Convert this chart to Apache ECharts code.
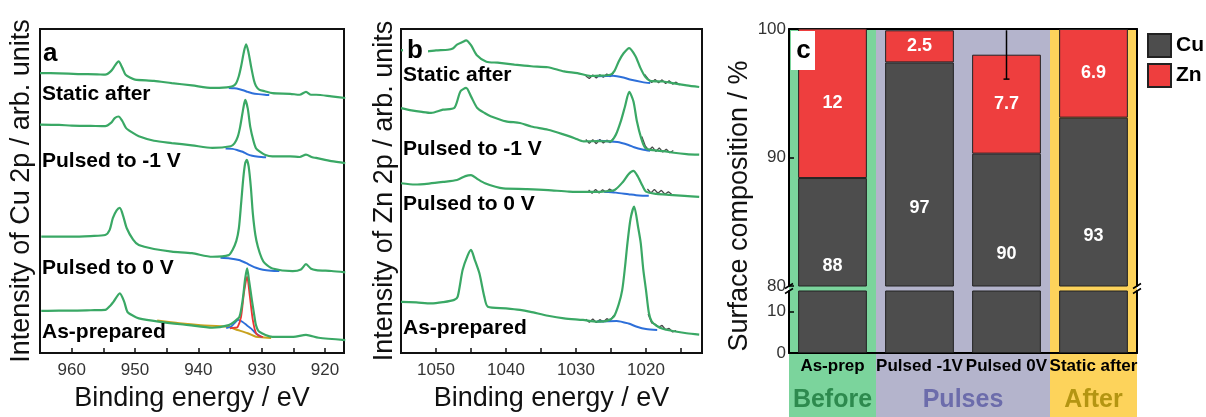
<!DOCTYPE html>
<html>
<head>
<meta charset="utf-8">
<script src="https://cdn.jsdelivr.net/npm/echarts@6/dist/echarts.min.js"></script>
<style>
html, body { margin: 0; padding: 0; background: #fff; }
#chart { width: 1206px; height: 417px; }
</style>
</head>
<body>
<div id="chart"></div>
<script>
// ---------- Cu 2p spectra: [binding energy (eV), intensity (arb. units)] ----------
const cuStaticAfter = [[965,86.4],[962,86.3],[959,86.1],[956,86.0],[954.7,85.9],[953.8,87.0],[953.2,88.6],[952.6,90.0],[952.0,88.0],[951.5,85.9],[950.8,85.0],[950,84.4],[947,84.0],[944.2,83.3],[941,82.6],[937.8,81.8],[935.5,82.0],[934.6,82.3],[934.05,83.2],[933.6,85.5],[933.25,88.4],[932.8,93.0],[932.46,95.3],[932.1,93.0],[931.67,88.4],[931.2,84.0],[930.9,82.4],[930.4,81.3],[929.5,80.8],[928.3,80.2],[925.5,80.0],[924,79.7],[923,80.6],[922.2,79.7],[921.4,79.7],[919,79.2],[916.8,78.7]];
const cuPulsedNeg1 = [[965,70.5],[962,70.4],[960,70.2],[957,70.1],[954.7,70.0],[953.8,71.0],[953.2,72.5],[952.6,73.0],[952.0,71.6],[951.4,69.4],[950.4,68.0],[949.4,66.9],[947,65.5],[944.2,64.8],[941,64.1],[937.8,63.3],[934.9,63.8],[934.3,64.7],[933.8,66.6],[933.4,69.8],[932.9,75.5],[932.6,78.1],[932.2,75.5],[931.8,69.8],[931.3,65.5],[930.9,63.2],[930.4,62.3],[929.5,61.2],[928.3,60.7],[925.5,60.7],[924,60.5],[923,61.2],[922,60.4],[921.4,60.2],[919,59.2],[916.8,58.6]];
const cuPulsed0 = [[964.8,35.9],[962,35.9],[960,35.9],[957,36.1],[954.7,36.4],[954.0,38.0],[953.5,41.6],[952.9,44.0],[952.4,44.8],[951.9,42.5],[951.3,38.5],[950.3,35.0],[949.4,33.3],[947,32.1],[944.2,31.3],[941,30.8],[937.8,29.7],[935.2,30.2],[934.6,31.8],[934.0,34.6],[933.6,38.5],[933.25,46.0],[932.9,54.0],[932.6,58.6],[932.35,59.6],[932.05,57.5],[931.7,51.0],[931.4,43.2],[931.0,36.5],[930.6,32.8],[930.0,29.3],[929.5,27.7],[928.3,26.1],[925.1,25.3],[923.8,25.8],[923,27.4],[922.2,26.0],[921.4,25.6],[919,25.3],[916.8,24.9]];
const cuAsPrepared = [[964.8,13.0],[962,13.1],[960,13.1],[957,13.2],[954.7,13.3],[953.9,14.6],[953.4,15.8],[952.4,18.4],[951.7,15.8],[951.2,12.7],[950.3,11.5],[949.4,10.7],[946.3,9.7],[941.5,8.6],[937.8,7.8],[935.2,8.6],[934.3,9.7],[933.5,11.2],[933.0,16.4],[932.6,23.0],[932.3,26.1],[932.0,22.5],[931.55,16.4],[931.2,12.0],[930.9,8.6],[930.4,6.6],[928.3,5.0],[925,5.0],[923,5.6],[921,4.7],[916.8,4.0]];
// fitted backgrounds and components
const cuStaticAfterBg = [[935.2,81.8],[934.3,81.7],[933.5,81.4],[932.8,81.0],[932.2,80.6],[931.5,80.2],[930.5,79.9],[929.5,79.7],[928.8,79.6]];
const cuPulsedNeg1Bg = [[935.7,63.1],[934.6,63.0],[933.8,62.6],[933.0,62.1],[932.3,61.4],[931.5,60.9],[930.5,60.6],[929.3,60.4]];
const cuPulsed0Bg = [[936.5,29.4],[935,29.2],[933.6,28.7],[932.5,27.8],[931.6,26.9],[930.9,26.3],[929.8,25.7],[928.5,25.4],[927.2,25.3]];
const cuAsPreparedBg = [[946.5,10.0],[943,9.2],[939.6,8.6],[935.4,8.1],[933.8,7.1],[932.2,6.1],[930.9,5.0],[929.6,4.8],[928.5,4.6]];
const cuAsPreparedMain = [[935,7.6],[934.2,7.8],[933.8,8.0],[933.25,11.2],[932.8,18.5],[932.3,23.6],[931.9,18.0],[931.4,10.2],[930.9,6.1],[930.4,5.3],[929.8,4.9]];
const cuAsPreparedSide = [[935.6,7.7],[934.8,8.2],[934.2,9.4],[933.7,10.2],[933.0,9.6],[932.3,8.5],[931.7,7.6],[931.1,6.4],[930.6,5.6],[930.0,4.9]];

// ---------- Zn 2p spectra ----------
const znStaticAfter = [[1055,93.5],[1053.8,93.2],[1052.5,93.0],[1051.2,93.1],[1050,93.4],[1048.3,93.6],[1047.6,94.0],[1047,95.2],[1046.2,96.0],[1045.7,96.5],[1045,95.0],[1044.2,92.0],[1042.8,89.9],[1041.2,89.6],[1038.8,89.0],[1036.4,88.5],[1034,88.2],[1031.7,86.9],[1029.8,86.4],[1027.9,85.5],[1026.5,85.6],[1025.1,85.9],[1024.5,87.1],[1023.9,90.0],[1023.2,92.5],[1022.4,94.1],[1021.5,91.6],[1020.8,88.0],[1020.1,85.2],[1019.4,84.0],[1017.5,83.8],[1016,83.2],[1014.2,82.6],[1012.4,82.1]];
const znPulsedNeg1 = [[1055,75.6],[1053.5,74.9],[1052,74.4],[1050.7,74.1],[1049,75.1],[1047.4,75.6],[1046.5,80.8],[1045.7,81.8],[1045,79.2],[1044.1,75.6],[1043,74.0],[1042.2,73.1],[1040,71.5],[1038,71.0],[1036.4,69.9],[1034,68.9],[1031.7,67.4],[1030.2,66.3],[1028.9,65.3],[1027,65.4],[1025.1,65.3],[1024.3,67.4],[1023.6,71.5],[1023.0,76.1],[1022.4,80.6],[1021.8,77.7],[1021.3,71.5],[1020.7,66.4],[1020.1,63.3],[1019,62.6],[1017.5,62.3],[1016,61.8],[1014.2,61.4],[1012.4,61.2]];
const znPulsed0 = [[1055,52.4],[1053,52.0],[1051,52.3],[1049,52.8],[1047,53.4],[1045.8,54.6],[1045,54.9],[1044,53.6],[1043,52.4],[1041.5,51.3],[1040.4,50.8],[1037,50.6],[1034,50.3],[1031,49.8],[1028,49.7],[1026.2,49.8],[1024.5,50.3],[1023.3,52.8],[1022.5,55.2],[1021.8,56.2],[1021.2,54.6],[1020.5,51.6],[1020,49.8],[1018.5,49.1],[1016.7,48.8],[1014.5,48.5],[1012.4,48.2]];
const znAsPrepared = [[1055,15.8],[1052.8,15.6],[1050.7,15.3],[1049,15.7],[1047.4,16.4],[1046.9,17.4],[1046.2,25.6],[1045.5,30.0],[1045.0,31.8],[1044.5,29.0],[1043.8,24.6],[1043.1,17.4],[1042.6,14.3],[1040,13.8],[1038,13.3],[1036.5,12.7],[1034,11.5],[1031.7,10.7],[1029,10.2],[1027,9.7],[1025.5,10.0],[1024.6,11.2],[1023.9,15.0],[1023.4,19.4],[1023.0,26.5],[1022.65,33.9],[1022.2,41.5],[1021.7,45.2],[1021.1,38.5],[1020.75,33.9],[1020.4,26.0],[1020.0,19.4],[1019.6,12.5],[1019.2,9.8],[1018.5,8.4],[1017.5,7.4],[1016,6.7],[1014.2,6.1],[1012.4,5.7]];
// raw counts around the fitted region ('-' marks the gap under the peak)
const znStaticAfterRaw = [[1028.6,85.5],[1028.1,84.7],[1027.6,85.8],[1027.1,84.9],[1026.6,85.9],[1026.1,85.1],[1025.6,86.1],[1025.1,85.3],[1024.6,86.6],[1024.3,'-'],[1020.2,86.0],[1019.7,84.6],[1019.2,83.5],[1018.7,84.4],[1018.2,83.4],[1017.7,84.3],[1017.2,83.2],[1016.7,84.0],[1016.2,83.0],[1015.7,83.6],[1015.2,82.7]];
const znPulsedNeg1Raw = [[1028.6,65.9],[1028.1,64.7],[1027.6,65.8],[1027.1,64.6],[1026.6,65.9],[1026.1,64.8],[1025.6,65.7],[1025.1,64.9],[1024.7,66.2],[1024.4,'-'],[1020.6,66.8],[1020.1,63.9],[1019.6,62.5],[1019.1,63.6],[1018.6,62.2],[1018.1,63.3],[1017.6,62.0],[1017.1,62.9],[1016.6,61.8],[1016.1,62.5]];
const znPulsed0Raw = [[1028.2,50.3],[1027.7,49.3],[1027.2,50.5],[1026.7,49.4],[1026.2,50.4],[1025.7,49.6],[1025.2,50.6],[1024.7,49.9],[1024.2,50.8],[1024.0,'-'],[1019.8,50.6],[1019.3,49.4],[1018.8,50.5],[1018.3,49.3],[1017.8,50.2],[1017.3,49.0],[1016.8,49.8],[1016.3,48.9]];
const znAsPreparedRaw = [[1028.6,10.4],[1028.1,9.5],[1027.6,10.5],[1027.1,9.4],[1026.6,10.3],[1026.1,9.6],[1025.6,10.6],[1025.1,10.0],[1024.6,11.6],[1024.4,'-'],[1019.7,12.0],[1019.2,9.3],[1018.7,8.9],[1018.2,8.0],[1017.7,8.5],[1017.2,7.2],[1016.7,7.6],[1016.2,6.5],[1015.7,6.9]];
const znStaticAfterBg = [[1027,85.4],[1024.7,85.6],[1023,84.9],[1022.3,84.4],[1020.5,83.6],[1019.4,83.3]];
const znPulsedNeg1Bg = [[1027,65.5],[1024.1,65.1],[1022.5,64.2],[1021.7,63.5],[1020.5,62.8],[1019.4,62.4]];
const znPulsed0Bg = [[1026,49.8],[1024.3,49.5],[1022.5,49.0],[1021,48.6],[1019.6,48.5]];
const znAsPreparedBg = [[1027,9.7],[1024.2,9.9],[1022.5,9.1],[1021.3,8.1],[1020,7.4],[1018.4,7.1]];

// ---------- axis ticks ----------
const cuTicks = [920, 925, 930, 935, 940, 945, 950, 955, 960];
const cuTickLabels = [920, 930, 940, 950, 960];
const znTicks = [1015, 1020, 1025, 1030, 1035, 1040, 1045, 1050];
const znTickLabels = [1020, 1030, 1040, 1050];
const upperRange = [80, 100];
const upperTicks = [80, 90, 100];
const lowerRange = [0, 15];
const lowerTicks = [0, 10];

// ---------- surface composition (%) ----------
const categories = ['As-prep', 'Pulsed -1V', 'Pulsed 0V', 'Static after'];
const cuValues = [88.4, 97.4, 90.3, 93.1];
const znValues = [12, 2.5, 7.7, 6.9];
const znError = [null, null, 1.9, null];
const groupNames = ['Before', 'Pulses', 'After'];
const groupSpans = [[0, 0], [1, 2], [3, 3]];

// ---------- style ----------
const FONT = '"Liberation Sans", Arial, Helvetica, sans-serif';
const GREEN = '#3aa865', BLUE = '#2d6fd9', RED = '#ec3434', GOLD = '#c9a21e', RAW = '#4a4a4a';
const CU_COLOR = '#4d4d4d', ZN_COLOR = '#ee3e3e';
const BAND_COLORS = ['#7bd49c', '#b4b4cc', '#fdd35b'];
const GROUP_TEXT = ['#2d8a4e', '#6c6cab', '#b49512'];

const gridA = { left: 40, top: 29, width: 304, height: 324 };
const gridB = { left: 401, top: 29, width: 301, height: 324 };
const gridCu = { left: 789, top: 29, width: 348, height: 257 };
const gridCl = { left: 789, top: 291, width: 348, height: 62 };

const chart = echarts.init(document.getElementById('chart'));

function spectrumLine(gi, data, color, width, z, smooth) {
  return {
    type: 'line', xAxisIndex: gi, yAxisIndex: gi, data: data,
    showSymbol: false, symbol: 'none', smooth: smooth === undefined ? 0.25 : smooth, z: z, silent: true,
    lineStyle: { color: color, width: width }
  };
}

function energyAxis(gi, min, max, ticks, labels) {
  return {
    gridIndex: gi, type: 'value', min: min, max: max, inverse: true,
    axisLine: { show: false, onZero: false },
    axisTick: { show: true, inside: true, length: 5, customValues: ticks, lineStyle: { color: '#111', width: 1.5 } },
    axisLabel: { customValues: labels, formatter: v => String(v), fontSize: 17, color: '#333', margin: 9, fontFamily: FONT },
    splitLine: { show: false },
    name: 'Binding energy / eV', nameLocation: 'middle', nameGap: 32,
    nameTextStyle: { fontSize: 27, color: '#111', fontFamily: FONT }
  };
}

function intensityAxis(gi, title, gap) {
  return {
    gridIndex: gi, type: 'value', min: 0, max: 100,
    axisLine: { show: false }, axisTick: { show: false }, axisLabel: { show: false },
    splitLine: { show: false },
    name: title, nameLocation: 'middle', nameGap: gap,
    nameTextStyle: { fontSize: 27, color: '#111', fontFamily: FONT }
  };
}

const frameLine = { show: true, onZero: false, lineStyle: { color: '#000', width: 2 } };

const errorData = znError
  .map((e, i) => e == null ? null : [i, cuValues[i] + znValues[i] - e, cuValues[i] + znValues[i] + e])
  .filter(d => d);

const labelShift = ((gridCl.top + gridCl.height) - (gridCu.top + gridCu.height)) / 2;

const option = {
  animation: false,
  backgroundColor: '#fff',
  textStyle: { fontFamily: FONT },
  grid: [
    Object.assign({ show: true, borderColor: '#111', borderWidth: 2, backgroundColor: 'transparent', outerBoundsMode: 'none' }, gridA),
    Object.assign({ show: true, borderColor: '#111', borderWidth: 2, backgroundColor: 'transparent', outerBoundsMode: 'none' }, gridB),
    Object.assign({ outerBoundsMode: 'none' }, gridCu),
    Object.assign({ outerBoundsMode: 'none' }, gridCl)
  ],
  xAxis: [
    energyAxis(0, 917, 965, cuTicks, cuTickLabels),
    energyAxis(1, 1012, 1055, znTicks, znTickLabels),
    {
      gridIndex: 2, type: 'category', data: categories, position: 'top',
      axisLine: frameLine, axisTick: { show: false }, axisLabel: { show: false }
    },
    {
      gridIndex: 3, type: 'category', data: categories, position: 'bottom',
      axisLine: frameLine,
      axisTick: { show: true, inside: true, alignWithLabel: true, length: 5, lineStyle: { color: '#000', width: 1.5 } },
      axisLabel: { interval: 0, fontSize: 17, fontWeight: 'bold', color: '#000', margin: 5, fontFamily: FONT }
    }
  ],
  yAxis: [
    intensityAxis(0, 'Intensity of Cu 2p / arb. units', 5),
    intensityAxis(1, 'Intensity of Zn 2p / arb. units', 3),
    {
      gridIndex: 2, type: 'value', min: upperRange[0], max: upperRange[1], position: 'left',
      axisLine: frameLine,
      axisTick: { show: true, inside: true, length: 5, customValues: upperTicks, lineStyle: { color: '#000', width: 1.5 } },
      axisLabel: { customValues: upperTicks, fontSize: 17, color: '#333', margin: 3, fontFamily: FONT },
      splitLine: { show: false }
    },
    {
      gridIndex: 2, type: 'value', min: upperRange[0], max: upperRange[1], position: 'right',
      axisLine: frameLine, axisTick: { show: false }, axisLabel: { show: false }, splitLine: { show: false }
    },
    {
      gridIndex: 3, type: 'value', min: lowerRange[0], max: lowerRange[1], position: 'left',
      axisLine: frameLine,
      axisTick: { show: true, inside: true, length: 5, customValues: lowerTicks, lineStyle: { color: '#000', width: 1.5 } },
      axisLabel: { customValues: lowerTicks, fontSize: 17, color: '#333', margin: 3, fontFamily: FONT },
      splitLine: { show: false }
    },
    {
      gridIndex: 3, type: 'value', min: lowerRange[0], max: lowerRange[1], position: 'right',
      axisLine: frameLine, axisTick: { show: false }, axisLabel: { show: false }, splitLine: { show: false }
    }
  ],
  legend: {
    data: ['Cu', 'Zn'], orient: 'vertical', left: 1147, top: 33, padding: 0,
    itemWidth: 23, itemHeight: 23, itemGap: 5, icon: 'rect', selectedMode: false,
    textStyle: { fontSize: 21, fontWeight: 'bold', color: '#000', fontFamily: FONT }
  },
  series: [
    // Cu 2p
    spectrumLine(0, cuStaticAfterBg, BLUE, 2, 3),
    spectrumLine(0, cuPulsedNeg1Bg, BLUE, 2, 3),
    spectrumLine(0, cuPulsed0Bg, BLUE, 2, 3),
    spectrumLine(0, cuAsPreparedBg, GOLD, 2, 3),
    spectrumLine(0, cuAsPreparedSide, BLUE, 1.8, 4),
    spectrumLine(0, cuAsPreparedMain, RED, 1.8, 4),
    spectrumLine(0, cuStaticAfter, GREEN, 2.2, 5),
    spectrumLine(0, cuPulsedNeg1, GREEN, 2.2, 5),
    spectrumLine(0, cuPulsed0, GREEN, 2.2, 5),
    spectrumLine(0, cuAsPrepared, GREEN, 2.2, 5),
    // Zn 2p
    spectrumLine(1, znStaticAfterRaw, RAW, 1.3, 2, false),
    spectrumLine(1, znPulsedNeg1Raw, RAW, 1.3, 2, false),
    spectrumLine(1, znPulsed0Raw, RAW, 1.3, 2, false),
    spectrumLine(1, znAsPreparedRaw, RAW, 1.3, 2, false),
    spectrumLine(1, znStaticAfterBg, BLUE, 2, 3),
    spectrumLine(1, znPulsedNeg1Bg, BLUE, 2, 3),
    spectrumLine(1, znPulsed0Bg, BLUE, 2, 3),
    spectrumLine(1, znAsPreparedBg, BLUE, 2, 3),
    spectrumLine(1, znStaticAfter, GREEN, 2.2, 5),
    spectrumLine(1, znPulsedNeg1, GREEN, 2.2, 5),
    spectrumLine(1, znPulsed0, GREEN, 2.2, 5),
    spectrumLine(1, znAsPrepared, GREEN, 2.2, 5),
    // surface composition, upper segment (80-100 %)
    {
      name: 'Cu', type: 'bar', xAxisIndex: 2, yAxisIndex: 2, stack: 'comp', data: cuValues,
      barWidth: '79%', clip: true,
      itemStyle: { color: CU_COLOR, borderColor: '#222', borderWidth: 1 },
      label: {
        show: true, position: 'inside', offset: [0, labelShift],
        formatter: p => Math.round(p.value), color: '#fff', fontSize: 18, fontWeight: 'bold', fontFamily: FONT
      }
    },
    {
      name: 'Zn', type: 'bar', xAxisIndex: 2, yAxisIndex: 2, stack: 'comp', data: znValues,
      barWidth: '79%', clip: true,
      itemStyle: { color: ZN_COLOR, borderColor: '#222', borderWidth: 1 },
      label: { show: true, position: 'inside', color: '#fff', fontSize: 18, fontWeight: 'bold', fontFamily: FONT }
    },
    // lower segment (0-15 %)
    {
      name: 'Cu', type: 'bar', xAxisIndex: 3, yAxisIndex: 4, data: cuValues,
      barWidth: '79%', clip: true,
      itemStyle: { color: CU_COLOR, borderColor: '#222', borderWidth: 1 }
    },
    // error bar on the Zn fraction
    {
      type: 'custom', xAxisIndex: 2, yAxisIndex: 2, data: errorData, z: 6, clip: true,
      encode: { x: 0, y: [1, 2] },
      renderItem: (params, api) => {
        const lo = api.coord([api.value(0), api.value(1)]);
        const hi = api.coord([api.value(0), api.value(2)]);
        const w = 3;
        const style = { stroke: '#000', lineWidth: 1.5 };
        return {
          type: 'group', children: [
            { type: 'line', shape: { x1: lo[0], y1: lo[1], x2: hi[0], y2: hi[1] }, style: style },
            { type: 'line', shape: { x1: lo[0] - w, y1: lo[1], x2: lo[0] + w, y2: lo[1] }, style: style }
          ]
        };
      }
    }
  ]
};

chart.setOption(option);

// ---------- decorations: group bands, break marks, annotations ----------
function boldText(x, y, text, size, color, align) {
  return {
    type: 'text', x: x, y: y, z: 60,
    style: { text: text, fontSize: size, fontWeight: 'bold', fontFamily: FONT, fill: color || '#000', align: align || 'left', verticalAlign: 'middle' }
  };
}

const xs = categories.map(c => chart.convertToPixel({ xAxisIndex: 3 }, c));
const step = xs[1] - xs[0];
const yTop = chart.convertToPixel({ yAxisIndex: 2 }, upperRange[1]);
const yBreakUpper = chart.convertToPixel({ yAxisIndex: 2 }, upperRange[0]);
const yBreakLower = chart.convertToPixel({ yAxisIndex: 4 }, lowerRange[1]);
const yBottom = chart.getHeight();
const xLeft = xs[0] - step / 2;
const xRight = xs[xs.length - 1] + step / 2;

const graphics = [];
groupSpans.forEach((span, g) => {
  const x0 = xs[span[0]] - step / 2;
  const x1 = xs[span[1]] + step / 2;
  graphics.push({
    type: 'rect', z: -5, silent: true,
    shape: { x: x0, y: yTop, width: x1 - x0, height: yBottom - yTop },
    style: { fill: BAND_COLORS[g] }
  });
  graphics.push(boldText((x0 + x1) / 2, 400, groupNames[g], 25, GROUP_TEXT[g], 'center'));
});

// axis break marks
[xLeft, xRight].forEach(x => {
  [yBreakUpper, yBreakLower].forEach(y => {
    graphics.push({
      type: 'line', z: 20, silent: true,
      shape: { x1: x - 4, y1: y + 2.5, x2: x + 4, y2: y - 2.5 },
      style: { stroke: '#000', lineWidth: 1.5 }
    });
  });
});

// panel letters
graphics.push(boldText(43, 54, 'a', 26));
graphics.push({ type: 'rect', z: 55, silent: true, shape: { x: 403, y: 31, width: 25, height: 39 }, style: { fill: '#fff' } });
graphics.push(boldText(415, 51, 'b', 26, '#000', 'center'));
graphics.push({ type: 'rect', z: 55, silent: true, shape: { x: 791, y: 31, width: 24, height: 39 }, style: { fill: '#fff' } });
graphics.push(boldText(803.5, 51, 'c', 26, '#000', 'center'));

// spectrum annotations
[['Static after', 94.5], ['Pulsed to -1 V', 161.5], ['Pulsed to 0 V', 268.5], ['As-prepared', 332]]
  .forEach(t => graphics.push(boldText(42, t[1], t[0], 21)));
[['Static after', 75], ['Pulsed to -1 V', 149], ['Pulsed to 0 V', 204.5], ['As-prepared', 328]]
  .forEach(t => graphics.push(boldText(403, t[1], t[0], 21)));

// y title of the composition panel (spans both axis segments)
graphics.push({
  type: 'text', x: 739.5, y: 206, rotation: Math.PI / 2, z: 60,
  style: { text: 'Surface composition / %', fontSize: 27, fontFamily: FONT, fill: '#111', align: 'center', verticalAlign: 'middle' }
});

chart.setOption({ graphic: graphics });
</script>
</body>
</html>
